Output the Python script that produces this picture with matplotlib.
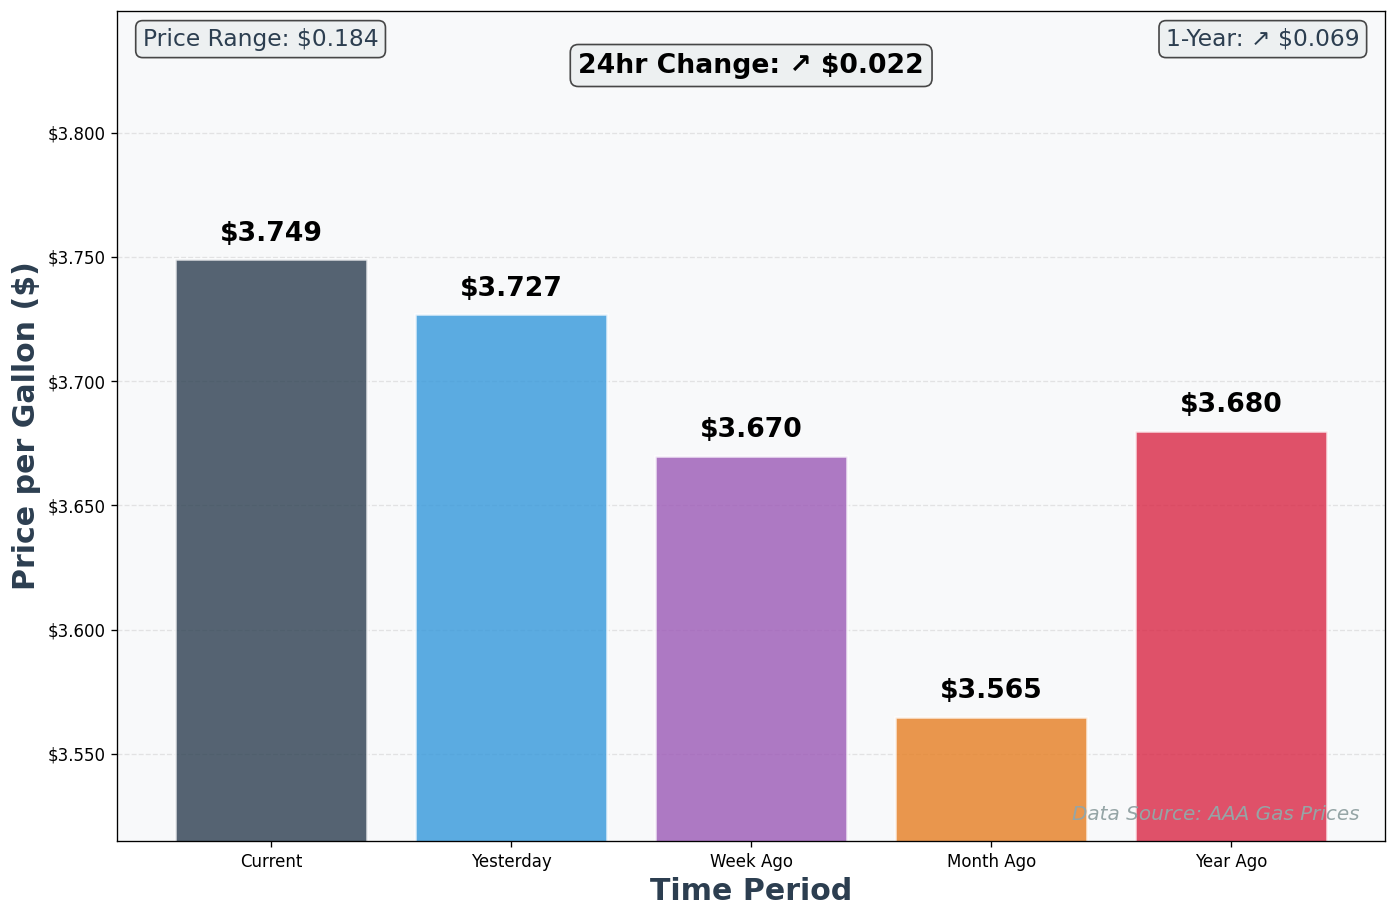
import matplotlib
matplotlib.use('Agg')
import matplotlib.pyplot as plt
from matplotlib.ticker import FuncFormatter, MultipleLocator

periods = ['Current', 'Yesterday', 'Week Ago', 'Month Ago', 'Year Ago']
prices = [3.749, 3.727, 3.670, 3.565, 3.680]
bar_colors = ['#2c3e50', '#3498db', '#9b59b6', '#e67e22', '#d92745']

change_24h = prices[0] - prices[1]
change_1y = prices[0] - prices[4]
price_range = max(prices) - min(prices)

fig, ax = plt.subplots(figsize=(1397 / 120, 918 / 120), dpi=120)
ax.set_facecolor('#f8f9fa')

bars = ax.bar(periods, prices, color=bar_colors, alpha=0.8, edgecolor='white', linewidth=1.5)

# labels above bars
for bar, price in zip(bars, prices):
    ax.text(bar.get_x() + bar.get_width() / 2, bar.get_height() + 0.005,
            f'${price:.3f}', ha='center', va='bottom', fontsize=16, fontweight='bold')

ax.set_ylim(min(prices) - 0.05, max(prices) + 0.1)
ax.yaxis.set_major_locator(MultipleLocator(0.05))
ax.yaxis.set_major_formatter(FuncFormatter(lambda v, p: f'${v:.3f}'))
ax.tick_params(axis='both', labelsize=10)
ax.grid(axis='y', linestyle='--', alpha=0.3)
ax.set_axisbelow(True)

ax.set_xlabel('Time Period', fontsize=18, fontweight='bold', color='#2c3e50')
ax.set_ylabel('Price per Gallon ($)', fontsize=18, fontweight='bold', color='#2c3e50')

box = dict(boxstyle='round,pad=0.3', facecolor='#ecf0f1', edgecolor='#333333', alpha=0.9)
ax.text(0.5, 0.95, f'24hr Change: ↗ ${change_24h:.3f}', transform=ax.transAxes,
        ha='center', va='top', fontsize=16, fontweight='bold', bbox=box)
ax.text(0.02, 0.98, f'Price Range: ${price_range:.3f}', transform=ax.transAxes,
        ha='left', va='top', fontsize=14, color='#2c3e50', bbox=box)
ax.text(0.98, 0.98, f'1-Year: ↗ ${change_1y:.3f}', transform=ax.transAxes,
        ha='right', va='top', fontsize=14, color='#2c3e50', bbox=box)

ax.text(0.98, 0.02, 'Data Source: AAA Gas Prices', transform=ax.transAxes,
        ha='right', va='bottom', fontsize=12, style='italic', color='#95a5a6')

plt.subplots_adjust(left=0.084, right=0.9914, top=0.988, bottom=0.084)
plt.savefig('out.png', dpi=120)
